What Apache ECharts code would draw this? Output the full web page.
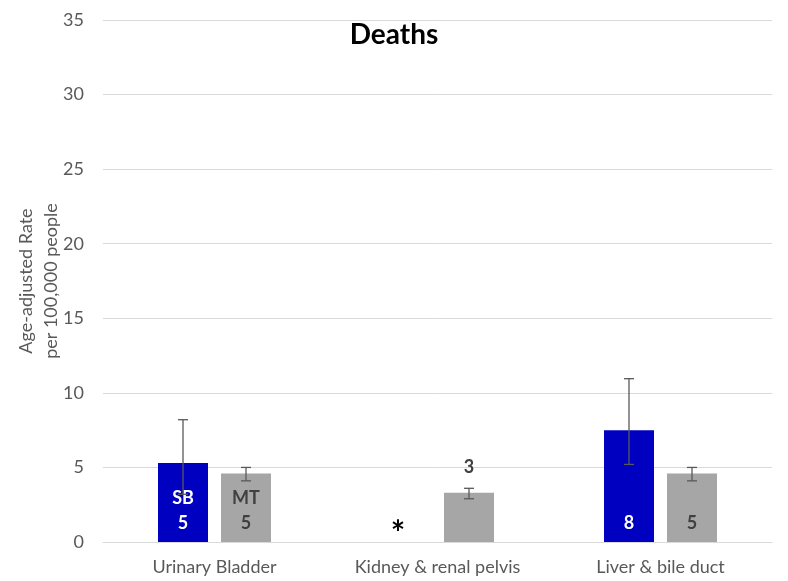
<!DOCTYPE html>
<html><head><meta charset="utf-8">
<script src="https://cdn.jsdelivr.net/npm/echarts@6/dist/echarts.min.js"></script>
<style>html,body{margin:0;padding:0;background:#fff}#c{width:788px;height:581px}</style>
</head><body><div id="c"></div>
<script>
const categories = ['Urinary Bladder', 'Kidney & renal pelvis', 'Liver & bile duct'];
const sbValues = [5.3, null, 7.5];
const sbLow = [3.2, null, 5.2];
const sbHigh = [8.2, null, 10.95];
const sbLabels = ['SB\n5', '*', '8'];
const mtValues = [4.6, 3.3, 4.6];
const mtLow = [4.1, 2.9, 4.1];
const mtHigh = [5.0, 3.6, 5.0];
const mtLabels = ['MT\n5', '3', '5'];
const yTicks = [0, 5, 10, 15, 20, 25, 30, 35];

const FONT = 'Lato';
const BAR_W = 50, HALF_OFF = 31.5;

const sbData = sbValues.map((v, i) => {
  if (v === null) {
    return { value: 0, label: { show: true, formatter: sbLabels[i], position: 'insideBottom', distance: 0,
      offset: [-8, 5], color: '#000', fontSize: 34, fontWeight: 'bold' } };
  }
  return { value: v, label: { formatter: sbLabels[i] } };
});
const mtData = mtValues.map((v, i) => {
  if (i === 1) {
    return { value: v, label: { formatter: mtLabels[i], position: 'top', distance: 13 } };
  }
  return { value: v, label: { formatter: mtLabels[i] } };
});

const errData = [];
categories.forEach((c, i) => {
  if (sbLow[i] !== null) errData.push([i, sbLow[i], sbHigh[i], -1]);
  errData.push([i, mtLow[i], mtHigh[i], 1]);
});

function renderErr(params, api) {
  const ci = api.value(0), lo = api.value(1), hi = api.value(2), side = api.value(3);
  const pLo = api.coord([ci, lo]);
  const pHi = api.coord([ci, hi]);
  const x = pLo[0] + side * HALF_OFF;
  const cap = 5;
  const style = { stroke: '#595959', lineWidth: 1.3 };
  return { type: 'group', children: [
    { type: 'line', shape: { x1: x, y1: pLo[1], x2: x, y2: pHi[1] }, style },
    { type: 'line', shape: { x1: x - cap, y1: pLo[1], x2: x + cap, y2: pLo[1] }, style },
    { type: 'line', shape: { x1: x - cap, y1: pHi[1], x2: x + cap, y2: pHi[1] }, style }
  ]};
}

const chart = echarts.init(document.getElementById('c'));
chart.setOption({
  animation: false,
  textStyle: { fontFamily: FONT },
  title: { text: 'Deaths', left: 'center', top: 16,
    textStyle: { fontFamily: FONT, fontSize: 28, fontWeight: 'bold', color: '#000' } },
  grid: { left: 103, right: 16, top: 20, bottom: 39, outerBoundsMode: 'none', containLabel: false },
  xAxis: {
    type: 'category', data: categories,
    axisLine: { lineStyle: { color: '#d9d9d9' } },
    axisTick: { show: false },
    axisLabel: { color: '#595959', fontSize: 18, margin: 16, fontFamily: FONT }
  },
  yAxis: {
    type: 'value', min: yTicks[0], max: yTicks[yTicks.length - 1], interval: 5,
    name: 'Age-adjusted Rate\nper 100,000 people', nameLocation: 'middle', nameGap: 39,
    nameMoveOverlap: false,
    nameTextStyle: { color: '#595959', fontSize: 18, lineHeight: 25, fontFamily: FONT },
    axisLine: { show: false }, axisTick: { show: false },
    axisLabel: { color: '#595959', fontSize: 18, margin: 19, fontFamily: FONT },
    splitLine: { lineStyle: { color: '#d9d9d9', width: 1 } }
  },
  series: [
    { name: 'SB', type: 'bar', data: sbData, barWidth: BAR_W, barGap: '26%',
      itemStyle: { color: '#0000C0' },
      label: { show: true, position: 'insideBottom', distance: 6, color: '#fff',
        fontSize: 18, fontWeight: 'bold', lineHeight: 25, fontFamily: FONT }, z: 2 },
    { name: 'MT', type: 'bar', data: mtData, barWidth: BAR_W,
      itemStyle: { color: '#A6A6A6' },
      label: { show: true, position: 'insideBottom', distance: 6, color: '#404040',
        fontSize: 18, fontWeight: 'bold', lineHeight: 25, fontFamily: FONT }, z: 2 },
    { type: 'custom', data: errData, renderItem: renderErr, z: 3, encode: { x: 0, y: [1, 2] } }
  ]
});
</script></body></html>
